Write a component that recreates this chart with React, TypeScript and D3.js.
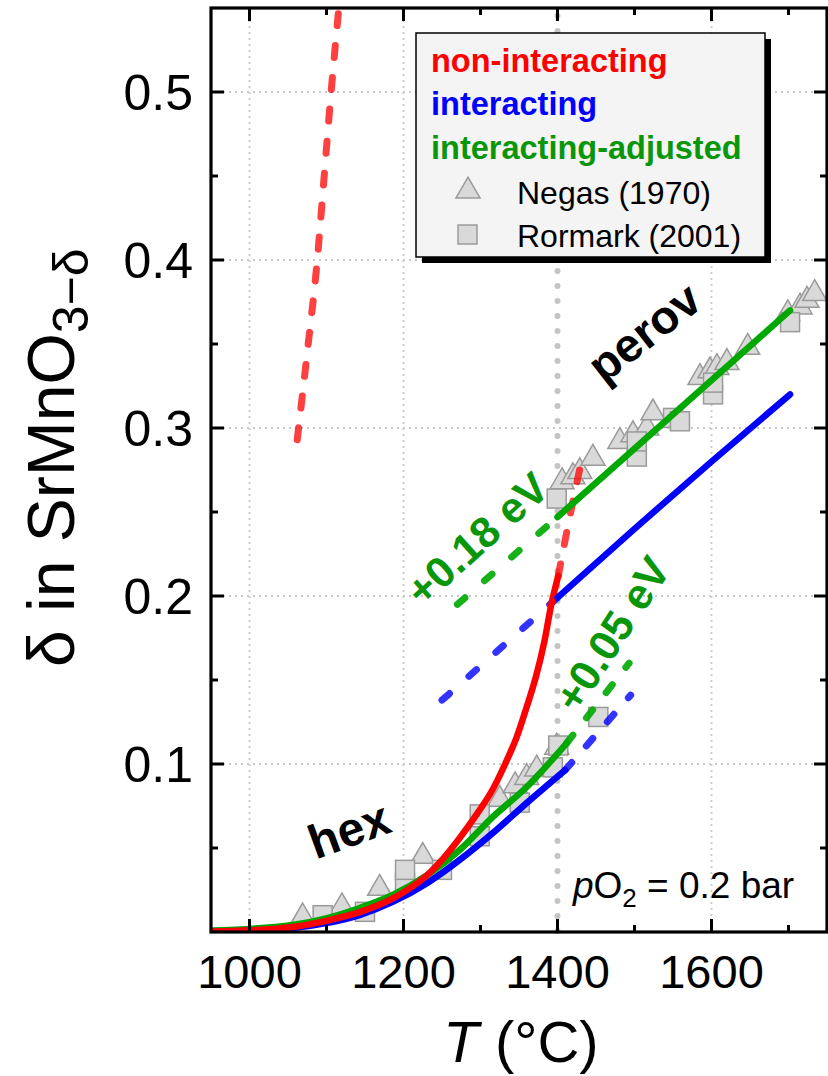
import React from "react";
import * as d3 from "d3";

// ---------- data ----------
const xTicksMajor = [1000, 1200, 1400, 1600];
const xTicksMinor = [1100, 1300, 1500, 1700];
const yTicksMajor = [0.1, 0.2, 0.3, 0.4, 0.5];
const yTicksMinor = [0.05, 0.15, 0.25, 0.35, 0.45];

// Negas (1970) triangles [T, delta]
const negas: [number, number][] = [
  [1069, 0.009], [1120, 0.015], [1169, 0.026], [1225, 0.045], [1325, 0.079],
  [1345, 0.087], [1360, 0.092], [1373, 0.097], [1399, 0.110],
  [1406, 0.268], [1420, 0.271], [1429, 0.274], [1446, 0.282], [1481, 0.292],
  [1498, 0.296], [1516, 0.300], [1524, 0.309], [1585, 0.330], [1598, 0.334],
  [1607, 0.336], [1620, 0.339], [1647, 0.348], [1699, 0.368], [1715, 0.372],
  [1724, 0.376], [1734, 0.380],
];
// Rormark (2001) squares
const rormark: [number, number][] = [
  [1095, 0.010], [1150, 0.012], [1202, 0.029], [1202, 0.037], [1250, 0.037],
  [1299, 0.057], [1299, 0.070], [1351, 0.077], [1394, 0.098], [1401, 0.111],
  [1453, 0.128], [1399, 0.258], [1503, 0.283], [1503, 0.292], [1550, 0.306],
  [1559, 0.304], [1602, 0.320], [1602, 0.327], [1702, 0.363],
];

// model curves
const redSolid: [number, number][] = [
  [950, 0.0003], [1000, 0.001], [1056, 0.003], [1101, 0.0068], [1143, 0.0118],
  [1186, 0.020], [1208, 0.026], [1231, 0.034], [1252, 0.044], [1273, 0.056],
  [1295, 0.070], [1316, 0.085], [1332, 0.100], [1347, 0.116], [1360, 0.134],
  [1372, 0.152], [1383, 0.173], [1392, 0.195], [1401, 0.212],
];
const redDashHex: [number, number][] = [[1401, 0.212], [1415, 0.245], [1430, 0.278]];
const redDashTop: [number, number][] = [
  [1062, 0.293], [1075, 0.345], [1088, 0.4], [1097, 0.45], [1106, 0.5], [1116, 0.55],
];
const blueSolidHex: [number, number][] = [
  [950, 0.0006], [1056, 0.0024], [1101, 0.0054], [1143, 0.0101], [1186, 0.0179],
  [1231, 0.0292], [1273, 0.0429], [1316, 0.0589], [1360, 0.0768], [1410, 0.0964],
];
const blueDashHex: [number, number][] = [[1410, 0.0964], [1495, 0.141]];
const greenSolidHex: [number, number][] = [
  [950, 0.0008], [1056, 0.0042], [1101, 0.0083], [1143, 0.0143], [1186, 0.022],
  [1231, 0.0339], [1273, 0.0488], [1316, 0.0685], [1360, 0.0863], [1412, 0.1125],
];
const greenDashHex: [number, number][] = [[1412, 0.1125], [1493, 0.16]];
const blueSolidPerov: [number, number][] = [[1400, 0.199], [1500, 0.24], [1600, 0.28], [1702, 0.32]];
const blueDashPerov: [number, number][] = [[1250, 0.138], [1400, 0.199]];
const greenSolidPerov: [number, number][] = [[1400, 0.247], [1702, 0.37]];
const greenDashPerov: [number, number][] = [[1270, 0.195], [1400, 0.247]];

const transitionT = 1400;

// ---------- layout ----------
const W = 828, H = 1076;
const L = 211, R = 827, T0 = 8, B = 932;
const FONT = "'Liberation Sans', Arial, Helvetica, sans-serif";
const RED = "#ff0000", BLUE = "#0000ff", GREEN = "#00a800", GREEN_TXT = "#0a960a";

export default function App() {
  const x = d3.scaleLinear().domain([950, 1750]).range([L, R]);
  const y = d3.scaleLinear().domain([0, 0.55]).range([B, T0]);
  const line = d3.line<[number, number]>().x(d => x(d[0])).y(d => y(d[1])).curve(d3.curveMonotoneX);

  const tri = d3.symbol().type(d3.symbolTriangle).size(250)();
  const sq = 19;

  const solid = (data: [number, number][], color: string) => (
    <path d={line(data) || ""} fill="none" stroke={color} strokeWidth={6.5} strokeLinecap="round" />
  );
  const dashed = (data: [number, number][], color: string, dash = "10 24", op = 0.85) => (
    <path d={line(data) || ""} fill="none" stroke={color} strokeWidth={7} strokeLinecap="round"
      strokeDasharray={dash} opacity={op} />
  );

  return (
    <svg width={W} height={H} style={{ position: "absolute", left: 0, top: 0, background: "#fff" }}
      fontFamily={FONT}>
      <defs>
        <clipPath id="plotclip"><rect x={L} y={T0} width={R - L} height={B - T0} /></clipPath>
      </defs>
      {/* grid */}
      <g stroke="#c8c8c8" strokeWidth={1.8} strokeDasharray="2 4">
        {xTicksMajor.filter(t => t !== transitionT).map(t => (
          <line key={"gx" + t} x1={x(t)} x2={x(t)} y1={T0} y2={B} />
        ))}
        {yTicksMajor.map(t => (
          <line key={"gy" + t} x1={L} x2={R} y1={y(t)} y2={y(t)} />
        ))}
      </g>
      {/* transition line */}
      <line x1={x(transitionT)} x2={x(transitionT)} y1={T0 + 8} y2={B} stroke="#c4c4c4" strokeWidth={6}
        strokeLinecap="round" strokeDasharray="0 15" />

      <g clipPath="url(#plotclip)">
        {/* markers */}
        {negas.map((d, i) => (
          <path key={"n" + i} d={tri || ""} transform={`translate(${x(d[0])},${y(d[1])})`}
            fill="#d9d9d9" stroke="#9a9a9a" strokeWidth={1.5} />
        ))}
        {rormark.map((d, i) => (
          <rect key={"r" + i} x={x(d[0]) - sq / 2} y={y(d[1]) - sq / 2} width={sq} height={sq}
            fill="#d9d9d9" stroke="#9a9a9a" strokeWidth={1.5} />
        ))}

        {/* curves */}
        {dashed(redDashTop, RED, "12 20", 0.75)}
        {dashed(redDashHex, RED, "12 20", 0.75)}
        {dashed(blueDashPerov, BLUE, "10 26", 0.8)}
        {dashed(greenDashPerov, GREEN, "10 26", 0.9)}
        {dashed(blueDashHex, BLUE, "10 22", 0.8)}
        {dashed(greenDashHex, GREEN, "10 22", 0.9)}
        {solid(blueSolidHex, BLUE)}
        {solid(greenSolidHex, GREEN)}
        {solid(redSolid, RED)}
        {solid(blueSolidPerov, BLUE)}
        {solid(greenSolidPerov, GREEN)}
      </g>

      {/* annotations */}
      <text transform="translate(349,830) rotate(-20)" textAnchor="middle" dominantBaseline="central"
        fontSize={48} fontWeight="bold" fill="#000">hex</text>
      <text transform="translate(644,332) rotate(-38)" textAnchor="middle" dominantBaseline="central"
        fontSize={47} fontWeight="bold" fill="#000">perov</text>
      <text transform="translate(477,539) rotate(-42)" textAnchor="middle" dominantBaseline="central"
        fontSize={43} fontWeight="bold" fill={GREEN_TXT}>+0.18 eV</text>
      <text transform="translate(612,634) rotate(-57)" textAnchor="middle" dominantBaseline="central"
        fontSize={43} fontWeight="bold" fill={GREEN_TXT}>+0.05 eV</text>
      <text x={573} y={898} fontSize={37} fill="#000">
        <tspan fontStyle="italic">p</tspan>O<tspan fontSize={26} dy={9}>2</tspan>
        <tspan dy={-9}> = 0.2 bar</tspan>
      </text>

      {/* frame + ticks */}
      <rect x={L} y={T0} width={R - L} height={B - T0} fill="none" stroke="#000" strokeWidth={3.2} />
      <g stroke="#000" strokeWidth={3}>
        {xTicksMajor.map(t => (
          <g key={"xt" + t}>
            <line x1={x(t)} x2={x(t)} y1={B} y2={B - 13} />
            <line x1={x(t)} x2={x(t)} y1={T0} y2={T0 + 13} />
          </g>
        ))}
        {xTicksMinor.map(t => (
          <g key={"xm" + t}>
            <line x1={x(t)} x2={x(t)} y1={B} y2={B - 7} />
            <line x1={x(t)} x2={x(t)} y1={T0} y2={T0 + 7} />
          </g>
        ))}
        {yTicksMajor.map(t => (
          <g key={"yt" + t}>
            <line x1={L} x2={L + 13} y1={y(t)} y2={y(t)} />
            <line x1={R} x2={R - 13} y1={y(t)} y2={y(t)} />
          </g>
        ))}
        {yTicksMinor.map(t => (
          <g key={"ym" + t}>
            <line x1={L} x2={L + 7} y1={y(t)} y2={y(t)} />
            <line x1={R} x2={R - 7} y1={y(t)} y2={y(t)} />
          </g>
        ))}
      </g>
      {/* tick labels */}
      {xTicksMajor.map(t => (
        <text key={"xl" + t} x={x(t)} y={988} textAnchor="middle" fontSize={47} fill="#000">{t}</text>
      ))}
      {yTicksMajor.map(t => (
        <text key={"yl" + t} x={193} y={y(t) + 18} textAnchor="end" fontSize={50} fill="#000">{t.toFixed(1)}</text>
      ))}
      {/* axis titles */}
      <text x={521} y={1062} textAnchor="middle" fontSize={58} fill="#000">
        <tspan fontStyle="italic">T</tspan> (°C)
      </text>
      <text transform="translate(74,667) rotate(-90)" fontSize={66} fill="#000">
        δ in SrMnO<tspan fontSize={50} dy={14}>3−δ</tspan>
      </text>

      {/* legend */}
      <rect x={422} y={39} width={349} height={224} fill="#000" />
      <rect x={416} y={33} width={349} height={224} fill="#f4f4f4" stroke="#000" strokeWidth={1.5} />
      <text x={431} y={72} fontSize={32.5} fontWeight="bold" fill={RED}>non-interacting</text>
      <text x={431} y={115} fontSize={32.5} fontWeight="bold" fill={BLUE}>interacting</text>
      <text x={431} y={159} fontSize={32.5} fontWeight="bold" fill={GREEN_TXT}>interacting-adjusted</text>
      <path d={tri || ""} transform="translate(468,191)" fill="#d9d9d9" stroke="#9a9a9a" strokeWidth={1.5} />
      <text x={517} y={204} fontSize={32} fill="#000">Negas (1970)</text>
      <rect x={458} y={225} width={19} height={19} fill="#d9d9d9" stroke="#9a9a9a" strokeWidth={1.5} />
      <text x={517} y={247} fontSize={32} fill="#000">Rormark (2001)</text>
    </svg>
  );
}
